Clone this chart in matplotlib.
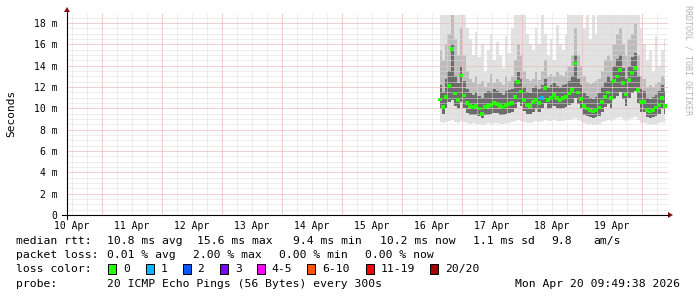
import numpy as np
import pandas as pd
import matplotlib
matplotlib.use('Agg')
import matplotlib.pyplot as plt
from matplotlib.lines import Line2D
from matplotlib.patches import Polygon, Rectangle

# ---- dados (1 ponto a cada 72 min) ----
t_first = '2026-04-16 15:12'
t_step = '72min'

median = [10.85, 10.15, 11.1, 12.1, 15.6, 11.4, 10.8, 13.1, 11.2, 10.5,
          10.2, 10.15, 10.2, 10.0, 9.45, 10.15, 10.2, 10.3, 10.5, 10.4,
          10.2, 10.15, 10.3, 10.4, 10.5, 11.1, 12.5, 11.6, 10.8, 10.3,
          10.2, 10.6, 10.8, 10.5, 10.95, 11.9, 10.8, 10.95, 11.25, 10.95,
          10.8, 10.95, 11.1, 11.4, 11.7, 14.2, 11.5, 10.9, 10.2, 10.0,
          9.8, 9.7, 9.85, 10.1, 10.6, 11.1, 11.5, 11.0, 12.6, 13.0,
          13.6, 12.4, 11.3, 12.65, 13.3, 13.8, 11.7, 10.6, 10.6, 9.85,
          9.7, 9.85, 10.1, 10.3, 10.95, 10.2]

ping_min = [8.7, 8.6, 8.7, 8.8, 8.9, 8.7, 8.6, 8.8, 8.7, 8.6,
            8.5, 8.6, 8.5, 8.5, 8.4, 8.5, 8.6, 8.5, 8.6, 8.6,
            8.5, 8.5, 8.6, 8.6, 8.7, 8.8, 8.9, 8.8, 8.7, 8.6,
            8.6, 8.7, 8.8, 8.7, 8.8, 8.9, 8.8, 8.8, 8.9, 8.8,
            8.8, 8.8, 8.9, 8.9, 9.0, 9.1, 8.9, 8.8, 8.6, 8.5,
            8.5, 8.4, 8.5, 8.5, 8.7, 8.8, 8.9, 8.8, 9.0, 9.1,
            9.2, 9.0, 8.8, 9.0, 9.1, 9.2, 8.9, 8.6, 8.6, 8.5,
            8.4, 8.5, 8.5, 8.6, 8.7, 8.6]

ping_q1 = [9.9, 9.5, 10.0, 10.6, 10.8, 10.2, 9.9, 10.6, 10.0, 9.6,
           9.4, 9.4, 9.4, 9.3, 9.1, 9.4, 9.4, 9.5, 9.6, 9.6,
           9.4, 9.4, 9.5, 9.6, 9.7, 10.0, 10.6, 10.2, 9.8, 9.5,
           9.5, 9.7, 9.9, 9.7, 10.0, 10.5, 9.9, 10.0, 10.2, 10.0,
           9.9, 10.0, 10.1, 10.3, 10.5, 11.0, 10.4, 9.9, 9.4, 9.3,
           9.2, 9.1, 9.2, 9.3, 9.7, 10.1, 10.4, 10.0, 10.9, 11.2,
           11.5, 10.9, 10.2, 11.0, 11.4, 11.6, 10.5, 9.7, 9.7, 9.2,
           9.1, 9.2, 9.3, 9.5, 9.9, 9.5]

ping_q3 = [12.2, 11.5, 12.8, 13.5, 16.0, 13.0, 12.4, 14.0, 12.6, 11.8,
           11.4, 11.3, 11.5, 11.2, 11.0, 11.4, 11.6, 11.5, 11.8, 11.6,
           11.4, 11.3, 11.6, 11.7, 11.8, 12.6, 13.4, 12.8, 12.0, 11.5,
           11.4, 11.9, 12.1, 11.8, 12.2, 12.8, 12.0, 12.2, 12.4, 12.1,
           12.0, 12.2, 12.3, 12.6, 13.0, 15.0, 12.8, 12.2, 11.4, 11.2,
           11.0, 10.9, 11.1, 11.4, 12.0, 12.5, 13.0, 12.6, 14.0, 14.6,
           15.0, 13.8, 12.8, 14.0, 14.8, 15.2, 13.0, 11.8, 11.6, 11.0,
           10.9, 11.1, 11.3, 11.6, 12.2, 11.6]

ping_p90 = [15.5, 14.5, 16.0, 17.0, 18.8, 16.5, 15.0, 17.5, 15.0, 13.5,
            12.8, 12.5, 13.0, 12.3, 12.6, 12.0, 12.5, 13.2, 12.4, 12.8,
            12.5, 12.2, 13.0, 12.6, 13.0, 14.5, 16.0, 15.0, 13.5, 12.8,
            12.6, 12.8, 13.4, 12.7, 13.5, 14.5, 13.0, 13.2, 13.0, 13.4,
            13.1, 13.0, 13.5, 14.0, 15.0, 17.5, 15.0, 14.0, 13.0, 12.5,
            12.3, 12.4, 12.6, 12.8, 13.5, 14.5, 15.0, 14.5, 16.0, 17.0,
            17.5, 16.0, 15.0, 16.5, 17.0, 18.0, 15.0, 13.0, 12.8, 12.0,
            12.2, 12.0, 12.3, 12.5, 13.0, 12.8]

ping_max = [18.8, 18.8, 18.8, 18.8, 18.8, 18.8, 18.8, 18.8, 18.8, 17.5,
            16.5, 15.0, 17.2, 14.8, 16.0, 13.5, 15.5, 17.0, 14.5, 16.2,
            15.0, 13.8, 16.8, 15.2, 17.5, 18.8, 18.8, 18.8, 18.8, 17.0,
            16.0, 15.5, 17.5, 16.0, 18.8, 17.0, 15.0, 16.5, 14.5, 17.8,
            16.0, 15.5, 17.0, 18.8, 18.8, 18.8, 18.8, 18.8, 17.5, 18.8,
            16.5, 18.8, 17.0, 18.8, 18.8, 18.8, 18.8, 18.8, 18.8, 18.8,
            18.8, 18.8, 18.8, 18.8, 18.8, 18.8, 18.8, 17.5, 16.0, 14.5,
            15.5, 13.5, 16.8, 14.0, 15.5, 16.5]

# pings perdidos por amostra (indice -> faixa de cor)
loss_idx = [0] * len(median)
loss_idx[34] = 1

loss_labels = ['0', '1', '2', '3', '4-5', '6-10', '11-19', '20/20']
loss_colors = ['#26ff00', '#00b8ff', '#0059ff', '#7e00ff',
               '#ff00ff', '#ff5500', '#ff0000', '#a10000']

y_ticks = [0, 2, 4, 6, 8, 10, 12, 14, 16, 18]
y_labels = ['0', '2 m', '4 m', '6 m', '8 m', '10 m', '12 m', '14 m', '16 m', '18 m']
day_labels = ['10 Apr', '11 Apr', '12 Apr', '13 Apr', '14 Apr',
              '15 Apr', '16 Apr', '17 Apr', '18 Apr', '19 Apr']

rtt_line = ['median rtt:', '10.8 ms avg', '15.6 ms max', '9.4 ms min',
            '10.2 ms now', '1.1 ms sd', '9.8', 'am/s']
loss_line = ['packet loss:', '0.01 % avg', '2.00 % max', '0.00 % min', '0.00 % now']
probe_text = '20 ICMP Echo Pings (56 Bytes) every 300s'
stamp_text = 'Mon Apr 20 09:49:38 2026'

MONO = 'DejaVu Sans Mono'
FS = 8.2
W, H = 697, 297


def fx(x):
    return x / W


def fy(y):
    return 1 - y / H


fig = plt.figure(figsize=(W / 100, H / 100), dpi=100)
fig.patch.set_facecolor('white')
ax = fig.add_axes([fx(67), fy(215), (668 - 67) / W, (215 - 13) / H])

t = pd.date_range(t_first, periods=len(median), freq=t_step)
t_left = pd.Timestamp('2026-04-10 10:00')
t_right = pd.Timestamp('2026-04-20 10:24')

# ---- fumaca ----
ax.fill_between(t, ping_min, ping_max, step='mid', color='#e2e2e2', lw=0, zorder=1)
ax.fill_between(t, ping_q1, ping_p90, step='mid', color='#bcbcbc', lw=0, zorder=1)
ax.fill_between(t, ping_q1, ping_q3, step='mid', color='#6c6c6c', lw=0, zorder=1)

# ---- grade (pontilhada, 1px ligado / 1px desligado) ----
dot = (0, (1, 1))
glw = 0.72
for tt in pd.date_range('2026-04-10 12:00', '2026-04-20 06:00', freq='6h'):
    ax.axvline(tt, color='#dcdcdc', lw=glw, ls=dot, zorder=2)
for y in np.arange(0.5, 19, 0.5):
    ax.axhline(y, color='#dcdcdc', lw=glw, ls=dot, zorder=2)
for tt in pd.date_range('2026-04-11', '2026-04-20', freq='D'):
    ax.axvline(tt, color='#f0b4b4', lw=glw, ls=dot, zorder=2)
for y in y_ticks[1:]:
    ax.axhline(y, color='#f0b4b4', lw=glw, ls=dot, zorder=2)

# ---- mediana colorida pela perda ----
cols = [loss_colors[i] for i in loss_idx]
ax.scatter(t, median, s=7, marker='s', c=cols, linewidths=0, zorder=4)

ax.set_xlim(t_left, t_right)
ax.set_ylim(0, 18.95)
for s in ax.spines.values():
    s.set_visible(False)
ax.set_facecolor('white')

ax.set_yticks(y_ticks)
ax.set_yticklabels(y_labels, family=MONO, fontsize=7)
noons = pd.date_range('2026-04-10 12:00', periods=len(day_labels), freq='D')
ax.set_xticks(noons)
ax.set_xticklabels(day_labels, family=MONO, fontsize=7)
ax.tick_params(axis='y', length=0, pad=7)
ax.tick_params(axis='x', length=0, pad=4)

# eixos com setas estilo rrdtool
fig.add_artist(Line2D([fx(62), fx(668)], [fy(215), fy(215)], color='black', lw=0.8))
fig.add_artist(Line2D([fx(67), fx(67)], [fy(219), fy(12)], color='black', lw=0.8))
fig.add_artist(Polygon([[fx(668), fy(212)], [fx(668), fy(218)], [fx(673), fy(215)]],
                       closed=True, color='#8b1010', lw=0))
fig.add_artist(Polygon([[fx(64), fy(12)], [fx(70), fy(12)], [fx(67), fy(7)]],
                       closed=True, color='#8b1010', lw=0))

fig.text(fx(11), fy(113), 'Seconds', rotation=90, ha='center', va='center',
         family=MONO, fontsize=8)
fig.text(fx(688), fy(5), 'RRDTOOL / TOBI OETIKER', rotation=270, ha='center',
         va='top', family=MONO, fontsize=6, color='#b4b4b4')

# ---- legenda ----
rtt_x = [16, 107.3, 197.3, 293.3, 380, 472.7, 551.7, 593.3]
for s, x in zip(rtt_line, rtt_x):
    fig.text(fx(x), fy(241.3), s, family=MONO, fontsize=FS, va='center')
loss_x = [16, 107.3, 192.7, 279.3, 365]
for s, x in zip(loss_line, loss_x):
    fig.text(fx(x), fy(255.3), s, family=MONO, fontsize=FS, va='center')

fig.text(fx(16), fy(269), 'loss color:', family=MONO, fontsize=FS, va='center')
box_x = [108.3, 145.7, 182.7, 220, 256.7, 307.3, 365.7, 430]
for lab, col, x in zip(loss_labels, loss_colors, box_x):
    fig.add_artist(Rectangle((fx(x), fy(273.7)), 8 / W, 9.3 / H,
                             facecolor=col, edgecolor='black', lw=0.7))
    fig.text(fx(x + 14.8), fy(269), lab, family=MONO, fontsize=FS, va='center')

fig.text(fx(16), fy(283.7), 'probe:', family=MONO, fontsize=FS, va='center')
fig.text(fx(107.3), fy(283.7), probe_text, family=MONO, fontsize=FS, va='center')
fig.text(fx(680), fy(283.7), stamp_text, family=MONO, fontsize=FS, va='center', ha='right')

fig.savefig('out.png', dpi=100)
